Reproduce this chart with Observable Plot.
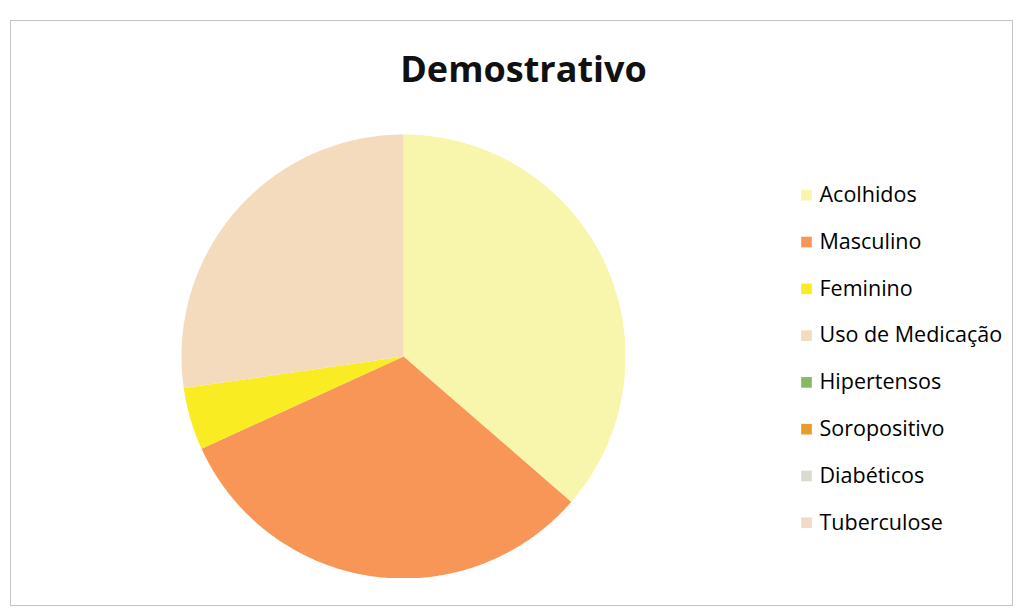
<!DOCTYPE html>
<html><head><meta charset="utf-8">
<script src="https://cdn.jsdelivr.net/npm/d3@7"></script>
<script src="https://cdn.jsdelivr.net/npm/@observablehq/plot@0.6"></script>
<style>
html,body{margin:0;padding:0;background:#fff;}
body{width:1021px;height:614px;position:relative;overflow:hidden;font-family:"Open Sans",sans-serif;}
#frame{position:absolute;left:10px;top:20px;width:1003px;height:586px;border:1px solid #c4c4c4;box-sizing:border-box;}
#title{position:absolute;left:0;width:1047px;top:49px;line-height:40px;text-align:center;font-weight:700;font-size:36px;color:#111;}
#pie{position:absolute;left:181px;top:134px;}
#legend{position:absolute;left:795px;top:169px;}
</style></head><body>
<div id="frame"></div>
<div id="title">Demostrativo</div>
<div id="pie"></div>
<div id="legend"></div>
<script>
const categories = ["Acolhidos","Masculino","Feminino","Uso de Medicação","Hipertensos","Soropositivo","Diabéticos","Tuberculose"];
const values = [40, 35, 5, 30, 0, 0, 0, 0];
const colors = ["#f7f6ac","#f79657","#faec22","#f5dbbd","#86b865","#eb9a2c","#d8dccf","#f3d9c6"];

const data = categories.map((name, i) => ({name, value: values[i]}));
const arcs = d3.pie().sort(null).value(d => d.value).startAngle(0).endAngle(2 * Math.PI)(data);
const pt = a => [Math.sin(a), -Math.cos(a)];
const slices = arcs.filter(a => a.data.value > 0).map(a => {
  const n = Math.max(2, Math.ceil((a.endAngle - a.startAngle) / (Math.PI / 360)));
  const ring = [[0, 0]];
  for (let k = 0; k <= n; k++) ring.push(pt(a.startAngle + (a.endAngle - a.startAngle) * k / n));
  ring.push([0, 0]);
  return {type: "Feature", properties: {name: a.data.name}, geometry: {type: "Polygon", coordinates: [ring]}};
});
const outline = {type: "Polygon", coordinates: [d3.range(0, 361, 1).map(t => pt(t * Math.PI / 180))]};

const colorScale = {domain: categories, range: colors};

const pie = Plot.plot({
  width: 444, height: 444, margin: 0,
  projection: {type: "identity", domain: outline},
  color: colorScale,
  marks: [Plot.geo(slices, {fill: d => d.properties.name})]
});
document.getElementById("pie").append(pie);

const legend = Plot.plot({
  width: 226, height: 379, margin: 0,
  style: {fontFamily: "'Open Sans', sans-serif", background: "transparent"},
  y: {type: "band", domain: categories, axis: null, round: false},
  color: colorScale,
  marks: [
    Plot.dot(categories, {y: d => d, frameAnchor: "left", dx: 11, symbol: "square", r: 6, fill: d => d, stroke: null}),
    Plot.text(categories, {y: d => d, frameAnchor: "left", dx: 24, text: d => d, textAnchor: "start", fontSize: 21.5, fill: "#000"})
  ]
});
document.getElementById("legend").append(legend);
</script>
</body></html>
